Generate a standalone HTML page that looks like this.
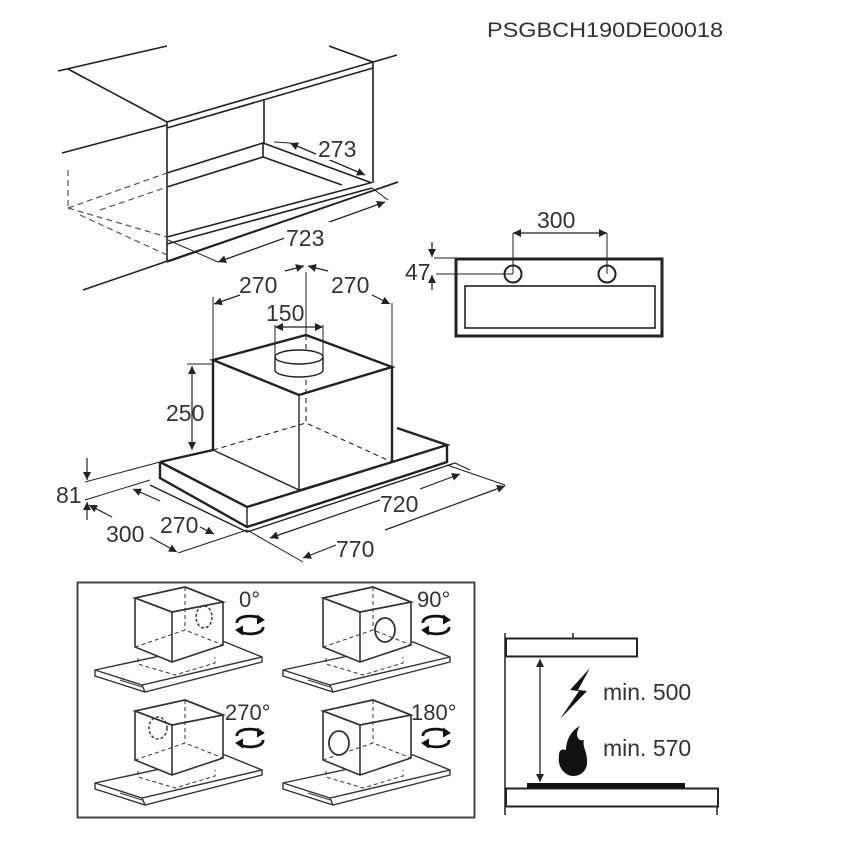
<!DOCTYPE html>
<html><head><meta charset="utf-8"><style>
html,body{margin:0;padding:0;background:#fff;}
svg{display:block;}
text{font-family:"Liberation Sans",Arial,sans-serif;fill:#333;}
</style></head><body>
<svg width="849" height="845" viewBox="0 0 849 845" xmlns="http://www.w3.org/2000/svg">
<defs>
<marker id="a" viewBox="0 0 10 10" refX="10" refY="5" markerWidth="13" markerHeight="8" orient="auto-start-reverse" markerUnits="userSpaceOnUse"><path d="M0,0 L10,5 L0,10 z" fill="#222"/></marker>
<g id="rot" fill="none" stroke="#111" stroke-width="2.8">
<path d="M-13,-2 C-14,-10 7,-11 12,-5"/><path d="M7,-10 L14,-5 L7,-1" fill="#111" stroke-width="1"/>
<path d="M13,2 C14,10 -7,11 -12,5"/><path d="M-7,10 L-14,5 L-7,1" fill="#111" stroke-width="1"/>
</g>
<g id="mini" fill="none" stroke="#333" stroke-width="1.4">
<path d="M95,670 L225,642 L262,657 L262,662 L145,692 L95,676 Z" fill="#fff"/>
<path d="M95,670 L142,685 L262,657 M142,685 L145,692"/>
<path d="M120,680 L142,687" stroke-width="1"/>
<path d="M138,658 L138,664 L175,675 L215,663 L215,657" stroke-dasharray="4,3" stroke-width="1"/>
<path d="M135,598 L185,587 L223,602 L172,612 Z M135,598 L135,647 L172,662 L223,645 L223,602 M172,612 L172,662" fill="#fff" stroke-width="1.6"/>
<path d="M135,598 L185,587 L223,602 L172,612 Z" stroke-width="1.6"/>
<path d="M185,587 L185,630 M135,647 L185,630 L223,645" stroke-dasharray="4,3" stroke-width="1"/>
</g>
</defs>

<text x="487" y="37" font-size="21" textLength="236" lengthAdjust="spacingAndGlyphs">PSGBCH190DE00018</text>

<!-- top cabinet -->
<g fill="none" stroke="#222" stroke-width="1.6">
<path d="M58,71 L167,46"/>
<path d="M68,69 L167,122 L373,62"/>
<path d="M167,128 L373,68"/>
<path d="M329,46 L373,62 L397,55"/>
<path d="M373,62 L373,183"/>
<path d="M167,122 L167,262"/>
<path d="M62,153 L167,125"/>
<path d="M264,100 L264,143"/>
<path d="M83,290 L398,182"/>
<path d="M167,173 L263,143 L372,183"/>
<path d="M167,187 L263,157 L342,185"/>
<path d="M263,143 L263,157"/>
<path d="M167,237 L370,183"/>
<path d="M167,244 L372,188"/>
<path d="M167,262 L398,182"/>
<path d="M68,170 L68,208 M68,208 L167,173 M68,208 L167,237 M100,210 L167,187 M80,215 L167,255" stroke-dasharray="6,4" stroke-width="1.2" stroke="#555"/>
<path d="M168,240 L218,262 M372,188 L388,200 M274,142 L290,143" stroke-width="1"/>
<path d="M218,262 L385,202" stroke-width="1.3" marker-start="url(#a)" marker-end="url(#a)"/>
<path d="M290,143 L365,175" stroke-width="1.3" marker-start="url(#a)" marker-end="url(#a)"/>
</g>
<rect x="316" y="138" width="46" height="22" fill="#fff"/>
<text x="318" y="157" font-size="23">273</text>
<rect x="284" y="222" width="46" height="24" fill="#fff"/>
<text x="286" y="246" font-size="23">723</text>

<!-- right small view -->
<g fill="none" stroke="#222">
<rect x="456" y="259" width="206" height="77" stroke-width="3"/>
<rect x="465" y="286" width="190" height="42" stroke-width="1.6"/>
<circle cx="513" cy="274" r="8.5" stroke-width="2"/>
<circle cx="607" cy="274" r="8.5" stroke-width="2"/>
<path d="M513,233 L513,274 M607,233 L607,274 M434,258 L456,258 M436,274 L513,274" stroke-width="1"/>
<path d="M513,233 L607,233" stroke-width="1.2" marker-start="url(#a)" marker-end="url(#a)"/>
<path d="M432,242 L432,257" stroke-width="1.2" marker-end="url(#a)"/>
<path d="M432,290 L432,275" stroke-width="1.2" marker-end="url(#a)"/>
</g>
<text x="537" y="228" font-size="23">300</text>
<text x="405" y="280" font-size="23">47</text>

<!-- main hood -->
<g fill="none" stroke="#222">
<path d="M150,485 L247,532 L455,463" stroke-width="1.4"/>
<path d="M160,462 L160,478 L247,527 L447,462 L447,445" stroke-width="2.4"/>
<path d="M160,462 L213,450 M160,462 L247,507 L447,445 L397,428" stroke-width="2.4"/>
<path d="M247,507 L247,527" stroke-width="1.4"/>
<path d="M213,360 L306,335 L392,367 L299,395 Z" stroke-width="2.4"/>
<path d="M213,360 L213,450 M392,367 L392,462" stroke-width="2.4"/>
<path d="M299,395 L299,490 M213,450 L299,490 L392,462" stroke-width="1.4"/>
<path d="M306,335 L306,423 M213,450 L306,423 L392,462" stroke-width="1.1" stroke-dasharray="5,4"/>
<path d="M275,357 L275,370 A24,7 0 0 0 323,370 L323,357" stroke-width="1.4" fill="#fff"/>
<ellipse cx="299" cy="357" rx="24" ry="7" stroke-width="1.4" fill="#fff"/>
<path d="M213,297 L213,360 M306,272 L306,335 M392,303 L392,367 M275,325 L275,357 M323,325 L323,357 M187,364 L213,364 M85,482 L160,462 M85,500 L150,480 M178,553 L247,530 M247,530 L303,562 M447,465 L505,485 M455,463 L470,470" stroke-width="1"/>
<path d="M275,327 L323,327" stroke-width="1.2" marker-start="url(#a)" marker-end="url(#a)"/>
<path d="M240,295 L214,304" stroke-width="1.2" marker-end="url(#a)"/>
<path d="M285,271 L304,266" stroke-width="1.2" marker-end="url(#a)"/>
<path d="M328,271 L308,266" stroke-width="1.2" marker-end="url(#a)"/>
<path d="M372,295 L390,304" stroke-width="1.2" marker-end="url(#a)"/>
<path d="M192,366 L192,450" stroke-width="1.2" marker-start="url(#a)" marker-end="url(#a)"/>
<path d="M87,458 L87,480" stroke-width="1.2" marker-end="url(#a)"/>
<path d="M87,520 L87,502" stroke-width="1.2" marker-end="url(#a)"/>
<path d="M112,517 L89,505" stroke-width="1.2" marker-end="url(#a)"/>
<path d="M150,537 L177,552" stroke-width="1.2" marker-end="url(#a)"/>
<path d="M160,501 L133,489" stroke-width="1.2" marker-end="url(#a)"/>
<path d="M200,527 L214,534" stroke-width="1.2" marker-end="url(#a)"/>
<path d="M380,500 L270,538" stroke-width="1.2" marker-end="url(#a)"/>
<path d="M420,489 L460,474" stroke-width="1.2" marker-end="url(#a)"/>
<path d="M336,545 L303,558" stroke-width="1.2" marker-end="url(#a)"/>
<path d="M385,530 L505,486" stroke-width="1.2" marker-end="url(#a)"/>
</g>
<text x="239" y="293" font-size="23">270</text>
<text x="331" y="293" font-size="23">270</text>
<text x="266" y="321" font-size="23">150</text>
<text x="166" y="421" font-size="23">250</text>
<text x="56" y="503" font-size="23">81</text>
<text x="106" y="542" font-size="23">300</text>
<text x="160" y="533" font-size="23">270</text>
<text x="380" y="512" font-size="23">720</text>
<text x="336" y="557" font-size="23">770</text>

<!-- orientation box -->
<rect x="77.5" y="582.5" width="397" height="235" fill="none" stroke="#444" stroke-width="2"/>
<use href="#mini"/>
<use href="#mini" transform="translate(188,0)"/>
<use href="#mini" transform="translate(0,113)"/>
<use href="#mini" transform="translate(188,113)"/>
<g fill="none" stroke="#333" stroke-width="1.4">
<ellipse cx="204" cy="617" rx="8" ry="11" stroke-dasharray="3,2"/>
<ellipse cx="385" cy="630" rx="10" ry="12" stroke-width="1.8"/>
<ellipse cx="158" cy="728" rx="9" ry="11" stroke-dasharray="3,2"/>
<ellipse cx="339" cy="743" rx="10" ry="12" stroke-width="1.8"/>
</g>
<text x="239" y="607" font-size="22">0°</text>
<text x="417" y="607" font-size="22">90°</text>
<text x="225" y="720" font-size="22">270°</text>
<text x="411" y="720" font-size="22">180°</text>
<use href="#rot" x="250" y="625"/>
<use href="#rot" x="436" y="625"/>
<use href="#rot" x="250" y="738"/>
<use href="#rot" x="436" y="738"/>

<!-- clearance -->
<g fill="none" stroke="#222">
<rect x="506" y="638.5" width="131" height="18" stroke-width="2"/>
<path d="M573,633 L573,638 M505,633 L505,815 M717,807 L717,815" stroke-width="1.5"/>
<rect x="506" y="788.5" width="212" height="18" stroke-width="2"/>
<path d="M540,659 L540,782" stroke-width="1.3" marker-start="url(#a)" marker-end="url(#a)"/>
</g>
<rect x="527" y="783" width="158" height="5" fill="#111"/>
<path d="M590,668 L570,690 L579,691 L560,719 L587,691 L578,690 Z" fill="#111"/>
<path d="M580,726 C568,732 566,745 566,750 C560,748 559,752 559,756 C557,768 566,776 573,776 C583,776 588,768 587,760 C587,752 582,746 584,740 C578,742 574,734 580,726 Z" fill="#111"/>
<text x="603" y="700" font-size="23">min. 500</text>
<text x="603" y="756" font-size="23">min. 570</text>
</svg>
</body></html>
